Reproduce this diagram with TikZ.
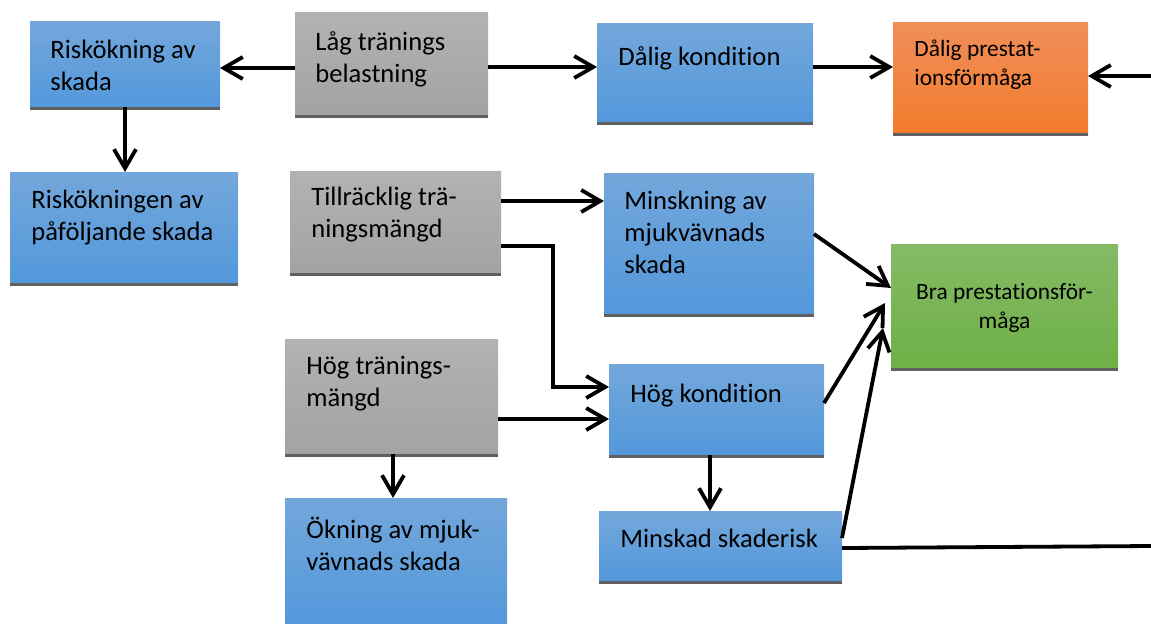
\documentclass[tikz,border=0pt]{standalone}
\usepackage{fontspec}
\setmainfont{Carlito}[Ligatures=NoCommon]
\usetikzlibrary{arrows.meta}

\definecolor{blueT}{RGB}{115,167,219}
\definecolor{blueB}{RGB}{83,152,219}
\definecolor{grayT}{RGB}{178,178,178}
\definecolor{grayB}{RGB}{163,163,163}
\definecolor{orangeT}{RGB}{240,142,90}
\definecolor{orangeB}{RGB}{243,124,44}
\definecolor{greenT}{RGB}{133,186,102}
\definecolor{greenB}{RGB}{111,176,70}
\definecolor{edgec}{RGB}{96,96,96}

\begin{document}
\begin{tikzpicture}[x=.5pt,y=-.5pt,
  box/.style={anchor=north west,inner sep=0pt,outer sep=0pt},
  bluebox/.style={box,top color=blueT,bottom color=blueB},
  graybox/.style={box,top color=grayT,bottom color=grayB},
  orangebox/.style={box,top color=orangeT,bottom color=orangeB},
  greenbox/.style={box,top color=greenT,bottom color=greenB},
  txt/.style={anchor=base west,align=left,inner sep=0pt,font=\fontsize{13.3}{16}\selectfont},
  smalltxt/.style={txt,font=\fontsize{11.7}{14.5}\selectfont},
  arr/.style={line width=1.9pt,-{Straight Barb[length=9.5pt,width=11pt]}},
  plain/.style={line width=1.9pt}]
  \useasboundingbox (0,0) rectangle (1151,623);

  % boxes
  \node[bluebox,minimum width=95pt,minimum height=43pt] (risk) at (30,21) {};
  \node[graybox,minimum width=96.5pt,minimum height=51.5pt] (lag) at (295,12) {};
  \node[bluebox,minimum width=114pt,minimum height=55.5pt] (risk2) at (10,172) {};
  \node[graybox,minimum width=105.5pt,minimum height=51pt] (till) at (290,171) {};
  \node[bluebox,minimum width=108pt,minimum height=49.5pt] (dalkond) at (597,23) {};
  \node[orangebox,minimum width=97.5pt,minimum height=55.5pt] (dalprest) at (893,22) {};
  \node[bluebox,minimum width=105pt,minimum height=70.5pt] (minskning) at (604,173) {};
  \node[greenbox,minimum width=113.5pt,minimum height=62pt] (bra) at (891,244) {};
  \node[graybox,minimum width=106.5pt,minimum height=57.5pt] (hogtr) at (285,339) {};
  \node[bluebox,minimum width=111pt,minimum height=64pt] (okning) at (285,498) {};
  \node[bluebox,minimum width=107.5pt,minimum height=45.5pt] (hogkond) at (609,364) {};
  \node[bluebox,minimum width=121.5pt,minimum height=35pt] (minskad) at (599,511) {};

  \foreach \n in {risk,lag,risk2,till,dalkond,dalprest,minskning,bra,hogtr,hogkond,minskad}
    \fill[edgec] (\n.south west) rectangle ([shift={(0,3)}]\n.south east);

  % texts (base = last line)
  \node[txt] (risk-t) at ([shift={(20,69)}]risk.north west) {Riskökning av\\skada};
  \node[txt] (lag-t) at ([shift={(20,70)}]lag.north west) {Låg tränings\\belastning};
  \node[txt] (risk2-t) at ([shift={(21,68)}]risk2.north west) {Riskökningen av\\påföljande skada};
  \node[txt] (till-t) at ([shift={(21,66)}]till.north west) {Tillräcklig trä-\\ningsmängd};
  \node[txt] (dalkond-t) at ([shift={(21,42)}]dalkond.north west) {Dålig kondition};
  \node[smalltxt] (dalprest-t) at ([shift={(21,63)}]dalprest.north west) {Dålig prestat-\\ionsförmåga};
  \node[txt] (minskning-t) at ([shift={(20,100)}]minskning.north west) {Minskning av\\mjukvävnads\\skada};
  \node[smalltxt,anchor=base,align=center] (bra-t) at ([shift={(113.5,84)}]bra.north west) {Bra prestationsför-\\måga};
  \node[txt] (hogtr-t) at ([shift={(21,67)}]hogtr.north west) {Hög tränings-\\mängd};
  \node[txt] (okning-t) at ([shift={(21,72)}]okning.north west) {Ökning av mjuk-\\vävnads skada};
  \node[txt] (hogkond-t) at ([shift={(21,38)}]hogkond.north west) {Hög kondition};
  \node[txt] (minskad-t) at ([shift={(21,36)}]minskad.north west) {Minskad skaderisk};

  % connectors
  \coordinate (rin) at (1151,76);
  \coordinate (rout) at (1151,546);
  \draw[arr] (lag.west |- 0,68) -- (risk.east |- 0,68);
  \draw[arr] (lag.east |- 0,67) -- (dalkond.west |- 0,67);
  \draw[arr] (dalkond.east |- 0,67) -- (dalprest.west |- 0,67);
  \draw[arr] (rin) -- (dalprest.east |- rin);
  \draw[arr] (risk.south) -- (risk.south |- risk2.north);
  \draw[arr] (till.east |- 0,201) -- (minskning.west |- 0,201);
  \draw[arr] (till.east |- 0,246) -- ++(52,0) |- (hogkond.west |- 0,387);
  \draw[arr] (hogtr.east |- 0,419) -- (hogkond.west |- 0,419);
  \draw[arr] (hogtr.south -| 393,0) -- (okning.north -| 393,0);
  \draw[arr] (hogkond.south -| 710,0) -- (minskad.north -| 710,0);
  \draw[arr] (minskning.east |- 0,234) -- (bra.west |- 0,288);
  \draw[arr] (hogkond.east |- 0,403) -- ([xshift=-3pt]bra.west |- 0,303);
  \draw[arr] (minskad.east |- 0,538) -- ([xshift=-4pt]bra.west |- 0,328);
  \draw[plain] (minskad.east |- 0,548) -- (rout);
\end{tikzpicture}
\end{document}
